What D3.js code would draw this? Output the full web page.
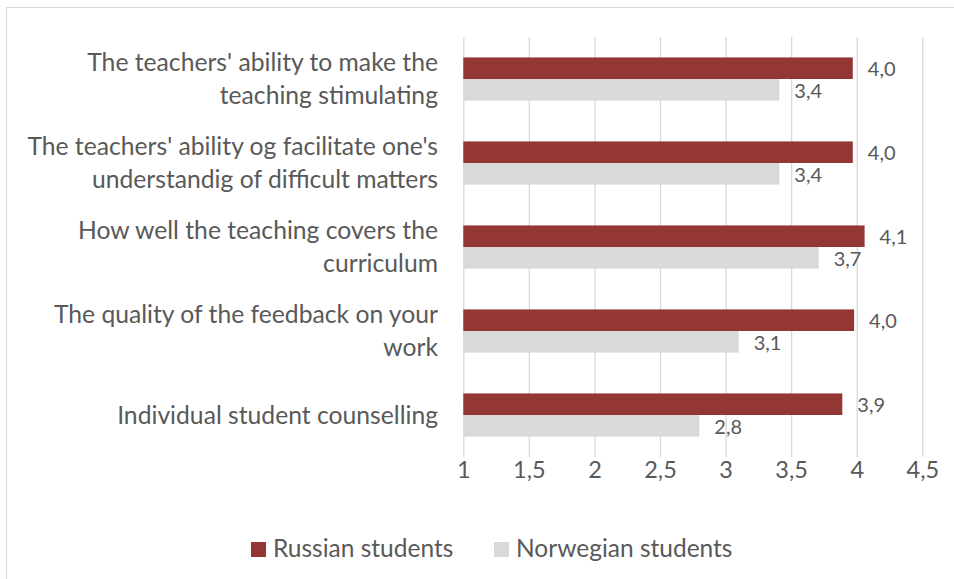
<!DOCTYPE html>
<html>
<head>
<meta charset="utf-8">
<script src="https://cdn.jsdelivr.net/npm/d3@7.9.0/dist/d3.min.js"></script>
<style>
  body { margin: 0; background: #fff; }
  svg text { font-family: Lato, "Open Sans", sans-serif; fill: #595959; }
</style>
</head>
<body>
<svg id="chart" width="954" height="579"></svg>
<script>
// categories, top to bottom (line breaks as in the chart)
const categories = [
  "The teachers' ability to make the\nteaching stimulating",
  "The teachers' ability og facilitate one's\nunderstandig of difficult matters",
  "How well the teaching covers the\ncurriculum",
  "The quality of the feedback on your\nwork",
  "Individual student counselling"
];
const seriesNames = ["Russian students", "Norwegian students"];
const russian = [3.97, 3.97, 4.06, 3.98, 3.89];
const norwegian = [3.41, 3.41, 3.71, 3.10, 2.80];
const tickValues = [1, 1.5, 2, 2.5, 3, 3.5, 4, 4.5];
const colors = ["#943634", "#d9d9d9"];

const locale = d3.formatLocale({ decimal: ",", thousands: " ", grouping: [3], currency: ["", ""] });
const fmtTick = locale.format("~g");
const fmtVal = locale.format(".1f");

const svg = d3.select("#chart");

// chart border (right / bottom edges are off the picture)
svg.append("rect")
  .attr("x", 6.5).attr("y", 7.5)
  .attr("width", 960).attr("height", 600)
  .attr("fill", "none").attr("stroke", "#d9d9d9");

const x = d3.scaleLinear().domain([1, 4.5]).range([463.3, 922.3]);
const y0 = d3.scaleBand().domain(categories).range([37, 457])
  .paddingInner(0.486).paddingOuter(0.243);
const y1 = d3.scaleBand().domain(seriesNames).range([0, y0.bandwidth()]);

// gridlines + tick labels
const xAxis = d3.axisBottom(x)
  .tickValues(tickValues)
  .tickSize(-(457 - 37))
  .tickPadding(0)
  .tickFormat(fmtTick);

const gx = svg.append("g")
  .attr("transform", "translate(0,457)")
  .call(xAxis);
gx.select(".domain").remove();
gx.selectAll(".tick line").attr("stroke", "#d9d9d9").attr("stroke-width", 1.3);
gx.selectAll(".tick text")
  .attr("y", 4)
  .attr("font-size", 23.5)
  .style("font-family", "Lato, sans-serif")
  .attr("fill", "#595959");

// rows of data
const rows = categories.map((c, i) => ({
  cat: c,
  vals: [
    { s: seriesNames[0], v: russian[i] },
    { s: seriesNames[1], v: norwegian[i] }
  ]
}));

const groups = svg.append("g").selectAll("g")
  .data(rows).join("g")
  .attr("transform", d => `translate(0,${y0(d.cat)})`);

groups.selectAll("rect")
  .data(d => d.vals).join("rect")
  .attr("x", x(1))
  .attr("y", d => y1(d.s))
  .attr("width", d => x(d.v) - x(1))
  .attr("height", y1.bandwidth())
  .attr("fill", (d, i) => colors[i]);

groups.selectAll("text.val")
  .data(d => d.vals).join("text")
  .attr("class", "val")
  .attr("x", d => x(d.v) + 15)
  .attr("y", d => y1(d.s) + y1.bandwidth() / 2 + 1)
  .attr("dy", "0.35em")
  .attr("font-size", 20)
  .text(d => fmtVal(d.v));

// category labels, right aligned, lines centred on the band
const lineH = 33;
svg.append("g").selectAll("text")
  .data(categories).join("text")
  .attr("text-anchor", "end")
  .attr("font-size", 24.7)
  .each(function (c) {
    const lines = c.split("\n");
    const cy = y0(c) + y0.bandwidth() / 2;
    const t = d3.select(this);
    lines.forEach((ln, k) => {
      t.append("tspan")
        .attr("x", 438)
        .attr("y", cy + (k - (lines.length - 1) / 2) * lineH)
        .attr("dy", "0.35em")
        .text(ln);
    });
  });

// legend
const legendX = [251, 494];
const leg = svg.append("g").selectAll("g")
  .data(seriesNames).join("g")
  .attr("transform", (d, i) => `translate(${legendX[i]},542)`);
leg.append("rect")
  .attr("width", 15).attr("height", 15)
  .attr("fill", (d, i) => colors[i]);
leg.append("text")
  .attr("x", 22).attr("y", 6.5)
  .attr("dy", "0.35em")
  .attr("font-size", 24.5)
  .text(d => d);
</script>
</body>
</html>
